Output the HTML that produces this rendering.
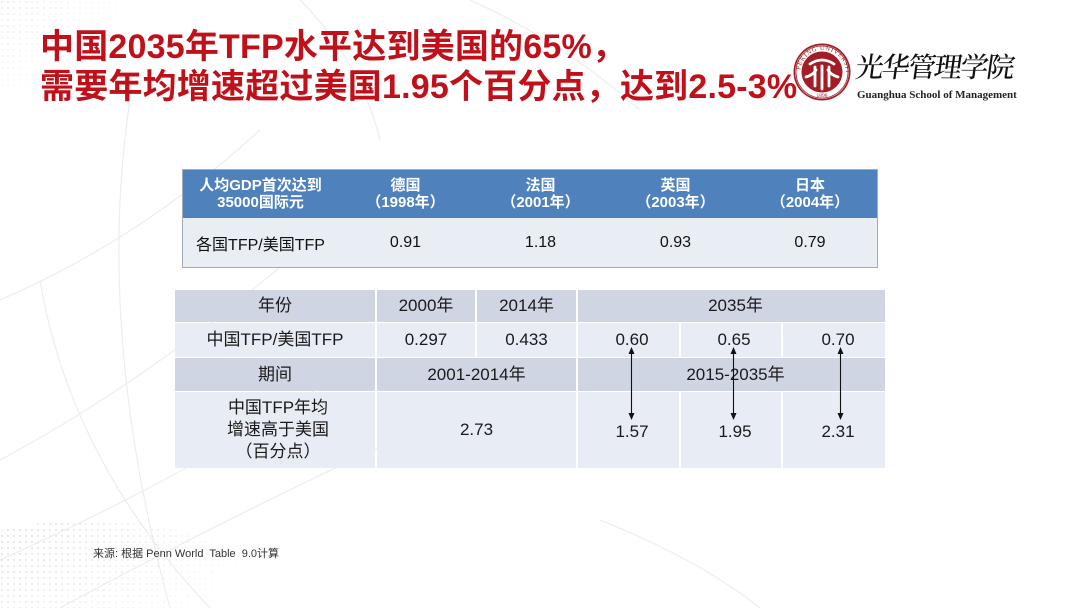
<!DOCTYPE html>
<html><head><meta charset="utf-8">
<style>
*{margin:0;padding:0;box-sizing:border-box}
html,body{width:1080px;height:608px;overflow:hidden;background:#fff}
body{position:relative;font-family:"Liberation Sans","Noto Sans CJK SC",sans-serif;color:#1a1a1a}
.t{position:absolute;left:40px;font-size:34px;font-weight:bold;color:#c0101a;line-height:40px;white-space:nowrap;letter-spacing:0.2px}
.c{position:absolute;display:flex;align-items:center;justify-content:center;text-align:center;white-space:nowrap}
.h{background:#cfd5e3}
.d{background:#e8ecf4}
.b{font-size:17px;line-height:22px}
.th{color:#fff;font-weight:bold;font-size:15px;line-height:17px}
.tb{font-size:16px;color:#111}
</style></head><body>

<svg style="position:absolute;left:0;top:0" width="1080" height="608" viewBox="0 0 1080 608">
  <defs>
    <pattern id="dots" width="6" height="6" patternUnits="userSpaceOnUse">
      <circle cx="2" cy="2" r="1" fill="#d0d0d0"/>
    </pattern>
    <radialGradient id="fadeTL" cx="0" cy="0" r="1">
      <stop offset="0" stop-color="#fff" stop-opacity="1"/>
      <stop offset="1" stop-color="#fff" stop-opacity="0"/>
    </radialGradient>
    <mask id="mTL"><rect width="1080" height="608" fill="#000"/><ellipse cx="20" cy="30" rx="150" ry="120" fill="url(#fadeTL)"/></mask>
    <mask id="mBL"><rect width="1080" height="608" fill="#000"/><ellipse cx="90" cy="610" rx="190" ry="90" fill="url(#fadeTL)"/></mask>
  </defs>
  <rect width="1080" height="608" fill="url(#dots)" mask="url(#mTL)"/>
  <rect width="1080" height="608" fill="url(#dots)" mask="url(#mBL)"/>
  <g fill="none" stroke="#ececec" stroke-width="1.1">
    <path d="M130 100 Q 95 330 170 608"/>
    <path d="M0 300 Q 140 240 260 130"/>
    <path d="M0 460 Q 150 380 300 250"/>
    <path d="M0 560 Q 200 470 330 380"/>
    <path d="M60 608 Q 260 500 440 420"/>
    <path d="M300 0 Q 360 60 380 140"/>
    <path d="M40 280 Q 70 460 210 608"/>
    <path d="M470 0 Q 560 40 640 110"/>
    <path d="M600 520 Q 700 560 760 608"/>
  </g>
</svg>

<div class="t" style="top:27px">中国2035年TFP水平达到美国的65%，</div>
<div class="t" style="top:67px">需要年均增速超过美国1.95个百分点，达到2.5-3%</div>

<!-- Logo -->
<svg style="position:absolute;left:792px;top:42px" width="62" height="62" viewBox="0 0 62 62">
  <defs><path id="arc" d="M8 31 A23 23 0 0 1 54 31"/></defs>
  <circle cx="30" cy="30" r="28.5" fill="#a31d26"/>
  <circle cx="30" cy="30" r="26.8" fill="#fff"/>
  <circle cx="30" cy="30" r="26" fill="none" stroke="#a31d26" stroke-width="0.8"/>
  <text font-family="Liberation Serif,serif" font-size="6.2" fill="#a31d26" letter-spacing="0.8"><textPath href="#arc" startOffset="3">PEKING UNIVERSITY</textPath></text>
  <text x="30" y="55" font-family="Liberation Serif,serif" font-size="5.5" fill="#a31d26" text-anchor="middle">1898</text>
  <circle cx="30" cy="30" r="20.5" fill="#a31d26"/>
  <g stroke="#fff" stroke-width="2.8" fill="none" stroke-linecap="round">
    <path d="M18 22 Q30 14 42 22"/>
    <path d="M23 25 L23 44"/>
    <path d="M30 24 L30 47"/>
    <path d="M37 25 L37 44"/>
    <path d="M14 35 Q21 33 24 28"/>
    <path d="M46 35 Q39 33 36 28"/>
  </g>
</svg>
<div style="position:absolute;left:856px;top:49px;font-family:'Noto Serif CJK SC','WenQuanYi Zen Hei',serif;font-size:28px;font-weight:500;letter-spacing:-1.8px;color:#111;white-space:nowrap;line-height:34px;transform:skewX(-8deg)">光华管理学院</div>
<div style="position:absolute;left:857px;top:88px;font-family:'Liberation Serif',serif;font-weight:bold;font-size:11px;color:#222;white-space:nowrap;line-height:14px">Guanghua School of Management</div>

<!-- Top table -->
<div style="position:absolute;left:182px;top:169px;width:696px;height:99px;border:1px solid #a3abbb;background:#e9edf4"></div>
<div style="position:absolute;left:183px;top:170px;width:694px;height:48px;background:#4f81bd"></div>
<div class="c th" style="left:183px;top:170px;width:155px;height:48px">人均GDP首次达到<br>35000国际元</div>
<div class="c th" style="left:338px;top:170px;width:135px;height:48px">德国<br>（1998年）</div>
<div class="c th" style="left:473px;top:170px;width:135px;height:48px">法国<br>（2001年）</div>
<div class="c th" style="left:608px;top:170px;width:135px;height:48px">英国<br>（2003年）</div>
<div class="c th" style="left:743px;top:170px;width:134px;height:48px">日本<br>（2004年）</div>
<div class="c tb" style="left:183px;top:219px;width:155px;height:47px">各国TFP/美国TFP</div>
<div class="c tb" style="left:338px;top:219px;width:135px;height:47px">0.91</div>
<div class="c tb" style="left:473px;top:219px;width:135px;height:47px">1.18</div>
<div class="c tb" style="left:608px;top:219px;width:135px;height:47px">0.93</div>
<div class="c tb" style="left:743px;top:219px;width:134px;height:47px">0.79</div>

<!-- Bottom table -->
<div class="c h b" style="left:175px;top:290px;width:200px;height:32px">年份</div>
<div class="c h b" style="left:377px;top:290px;width:98px;height:32px">2000年</div>
<div class="c h b" style="left:477px;top:290px;width:99px;height:32px">2014年</div>
<div class="c h b" style="left:578px;top:290px;width:307px;height:32px;padding-left:8px">2035年</div>

<div class="c d b" style="left:175px;top:323px;width:200px;height:34px">中国TFP/美国TFP</div>
<div class="c d b" style="left:377px;top:323px;width:98px;height:34px">0.297</div>
<div class="c d b" style="left:477px;top:323px;width:99px;height:34px">0.433</div>
<div class="c d" style="left:578px;top:323px;width:101px;height:34px"></div>
<div class="c d" style="left:681px;top:323px;width:100px;height:34px"></div>
<div class="c d" style="left:783px;top:323px;width:102px;height:34px"></div>

<div class="c h b" style="left:175px;top:358px;width:200px;height:33px">期间</div>
<div class="c h b" style="left:377px;top:358px;width:199px;height:33px">2001-2014年</div>
<div class="c h b" style="left:578px;top:358px;width:307px;height:33px;padding-left:8px">2015-2035年</div>

<div class="c d b" style="left:175px;top:392px;width:200px;height:76px;padding-left:6px">中国TFP年均<br>增速高于美国<br>（百分点）</div>
<div class="c d b" style="left:377px;top:392px;width:199px;height:76px">2.73</div>
<div class="c d" style="left:578px;top:392px;width:101px;height:76px"></div>
<div class="c d" style="left:681px;top:392px;width:100px;height:76px"></div>
<div class="c d" style="left:783px;top:392px;width:102px;height:76px"></div>

<div class="c b" style="left:602px;top:329px;width:60px;height:22px">0.60</div>
<div class="c b" style="left:704px;top:329px;width:60px;height:22px">0.65</div>
<div class="c b" style="left:808px;top:329px;width:60px;height:22px">0.70</div>
<div class="c b" style="left:602px;top:421px;width:60px;height:22px">1.57</div>
<div class="c b" style="left:705px;top:421px;width:60px;height:22px">1.95</div>
<div class="c b" style="left:808px;top:421px;width:60px;height:22px">2.31</div>

<svg style="position:absolute;left:0;top:0" width="1080" height="608" viewBox="0 0 1080 608">
  <g stroke="#111" stroke-width="1.1">
    <line x1="631.5" y1="352" x2="631.5" y2="415"/>
    <line x1="733.5" y1="352" x2="733.5" y2="415"/>
    <line x1="840.5" y1="352" x2="840.5" y2="415"/>
  </g>
  <g fill="#111">
    <path d="M631.5 347 L628.5 354 L634.5 354 Z"/>
    <path d="M631.5 420 L628.5 413 L634.5 413 Z"/>
    <path d="M733.5 347 L730.5 354 L736.5 354 Z"/>
    <path d="M733.5 420 L730.5 413 L736.5 413 Z"/>
    <path d="M840.5 347 L837.5 354 L843.5 354 Z"/>
    <path d="M840.5 420 L837.5 413 L843.5 413 Z"/>
  </g>
</svg>

<div style="position:absolute;left:93px;top:546px;font-size:11px;line-height:16px;color:#333;white-space:nowrap">来源: 根据 Penn World&nbsp; Table&nbsp; 9.0计算</div>

</body></html>
